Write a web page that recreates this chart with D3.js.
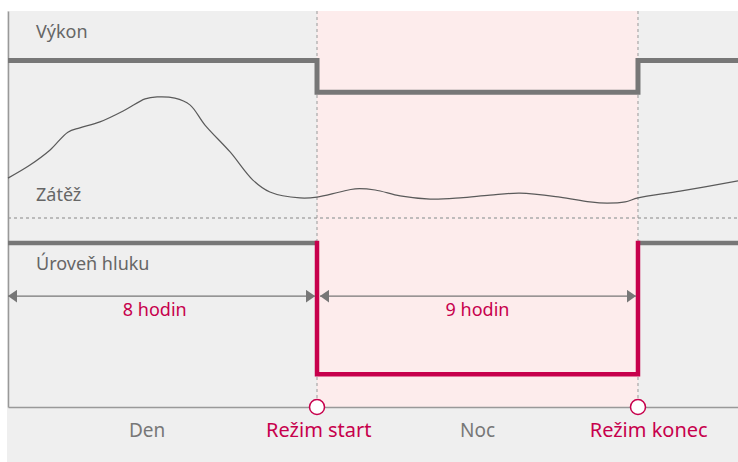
<!DOCTYPE html>
<html><head><meta charset="utf-8">
<script src="https://cdn.jsdelivr.net/npm/d3@7"></script>
<style>
body{margin:0;background:#fff}
svg{display:block}
text{font-family:"Noto Sans",sans-serif}
</style>
</head><body>
<svg id="c" width="738" height="462"></svg>
<script>
// ---- data ----
const hourStops = [0, 8, 17, 19.8];            // start, mode start, mode end, chart end
const powerHours = [0, 8, 17, 19.8];
const powerValues = [87.5, 79.5, 87.5, 87.5];
const noiseHours = [0, 8, 17, 19.8];
const noiseValues = [41.4, 8.3, 41.4, 41.4];
const loadHours = [0, 0.57, 1.09, 1.55, 1.86, 2.38, 3.03, 3.55, 3.86, 4.32, 4.71, 5.10, 5.75, 6.34, 6.78, 7.56, 8.0, 8.64, 9.07, 9.63, 10.33, 11.17, 12.01, 12.85, 13.69, 14.81, 15.65, 16.13, 16.64, 17.0, 18.18, 19.8];
const loadValues = [57.8, 61.1, 64.9, 69.4, 70.5, 72.0, 75.0, 77.8, 78.3, 78.0, 76.3, 71.2, 64.4, 57.3, 54.3, 52.8, 53.0, 54.3, 55.1, 54.8, 53.3, 52.5, 52.8, 53.5, 54.0, 53.0, 51.8, 51.5, 51.8, 52.8, 54.5, 57.1];
const separatorValue = 47.7;
const trackLabels = ["Výkon", "Zátěž", "Úroveň hluku"];
const trackLabelValues = [93.2, 52.0, 34.6];
const spanLabels = ["8 hodin", "9 hodin"];
const spanStarts = [0, 8];
const spanEnds = [8, 17];
const spanLabelHours = [3.8, 12.5];
const spanValue = 28.0;
const spanLabelValue = 22.9;
const periodLabels = ["Den", "Noc"];
const periodLabelHours = [3.6, 12.5];
const modeLabels = ["Režim start", "Režim konec"];
const modeHours = [8, 17];
const modeLabelHours = [8.05, 17.3];

// ---- layout ----
const W = 738, H = 462;
const frame = {left: 8, top: 11, right: 738, bottom: 407};
const gray = "#777777", crimson = "#c7004c";

const svg = d3.select("#c");
const plotW = frame.right - frame.left;
const x = d3.scaleLinear().domain(hourStops)
  .range([frame.left, frame.left + plotW * 0.4233, frame.left + plotW * 0.863, frame.right]);
const y = d3.scaleLinear().domain([0, 100]).range([frame.bottom, frame.top]);

// backgrounds
svg.append("rect").attr("x", frame.left - 1).attr("y", frame.top)
  .attr("width", W - frame.left + 1).attr("height", H - frame.top).attr("fill", "#efefef");
svg.append("rect").attr("x", x(hourStops[1])).attr("y", frame.top)
  .attr("width", x(hourStops[2]) - x(hourStops[1])).attr("height", frame.bottom - frame.top)
  .attr("fill", "#fdecec");

// separator dashed line
svg.append("line").attr("x1", frame.left).attr("x2", frame.right)
  .attr("y1", y(separatorValue)).attr("y2", y(separatorValue))
  .attr("stroke", "#aaaaaa").attr("stroke-width", 1.5).attr("stroke-dasharray", "3,3");

// mode vertical dashed lines
svg.selectAll(".vd").data(modeHours).join("line")
  .attr("x1", d => x(d)).attr("x2", d => x(d))
  .attr("y1", frame.top).attr("y2", frame.bottom)
  .attr("stroke", "#999").attr("stroke-width", 1).attr("stroke-dasharray", "3,3");

// axes
svg.append("g").attr("transform", `translate(0,${frame.bottom})`)
  .call(d3.axisBottom(x).tickValues([]).tickSizeOuter(0))
  .call(g => g.select(".domain").attr("stroke", "#999").attr("stroke-width", 1.5));
svg.append("g").attr("transform", `translate(${frame.left},0)`)
  .call(d3.axisLeft(y).tickValues([]).tickSizeOuter(0))
  .call(g => g.select(".domain").attr("stroke", "#999").attr("stroke-width", 1.5));

// power step line
const powerData = powerHours.map((h, i) => ({h, v: powerValues[i]}));
const lineLin = d3.line().x(d => x(d.h)).y(d => y(d.v));
svg.append("path").datum(powerData)
  .attr("d", d3.line().x(d => x(d.h)).y(d => y(d.v)).curve(d3.curveStepAfter))
  .attr("fill", "none").attr("stroke", gray).attr("stroke-width", 5)
  .attr("stroke-linejoin", "miter");

// load curve
const loadData = loadHours.map((h, i) => ({h, v: loadValues[i]}));
svg.append("path").datum(loadData)
  .attr("d", d3.line().x(d => x(d.h)).y(d => y(d.v)).curve(d3.curveCatmullRom.alpha(0.5)))
  .attr("fill", "none").attr("stroke", "#5a5a5a").attr("stroke-width", 1.2);

// noise lines
const nd = noiseHours.map((h, i) => ({h, v: noiseValues[i]}));
svg.append("path").datum([nd[0], {h: nd[1].h, v: nd[0].v}])
  .attr("d", lineLin).attr("fill", "none").attr("stroke", gray).attr("stroke-width", 4.5);
svg.append("path").datum([nd[2], nd[3]])
  .attr("d", lineLin).attr("fill", "none").attr("stroke", gray).attr("stroke-width", 4.5);
svg.append("path").datum([{h: nd[1].h, v: nd[0].v}, nd[1], {h: nd[2].h, v: nd[1].v}, nd[2]])
  .attr("d", lineLin).attr("fill", "none").attr("stroke", crimson).attr("stroke-width", 4.5)
  .attr("stroke-linejoin", "miter").attr("stroke-linecap", "square");

// arrow markers
const defs = svg.append("defs");
defs.append("marker").attr("id", "ah").attr("markerUnits", "userSpaceOnUse")
  .attr("viewBox", "0 0 10 14").attr("refX", 10).attr("refY", 7)
  .attr("markerWidth", 9).attr("markerHeight", 13).attr("orient", "auto-start-reverse")
  .append("path").attr("d", "M0,0L10,7L0,14Z").attr("fill", gray);

svg.selectAll(".span").data(spanStarts).join("line")
  .attr("x1", (d, i) => x(d) + (i === 0 ? 0 : 3))
  .attr("x2", (d, i) => x(spanEnds[i]) - 2)
  .attr("y1", y(spanValue)).attr("y2", y(spanValue))
  .attr("stroke", gray).attr("stroke-width", 1.3)
  .attr("marker-start", "url(#ah)").attr("marker-end", "url(#ah)");

svg.selectAll(".spanl").data(spanLabels).join("text")
  .attr("x", (d, i) => x(spanLabelHours[i])).attr("y", y(spanLabelValue))
  .attr("text-anchor", "middle").attr("fill", crimson).attr("font-size", 18)
  .text(d => d);

// track labels
svg.selectAll(".tl").data(trackLabels).join("text")
  .attr("x", 36).attr("y", (d, i) => y(trackLabelValues[i]))
  .attr("fill", "#666666").attr("font-size", 18).text(d => d);

// mode circles
svg.selectAll(".mc").data(modeHours).join("circle")
  .attr("cx", d => x(d)).attr("cy", frame.bottom).attr("r", 7.5)
  .attr("fill", "#fff").attr("stroke", crimson).attr("stroke-width", 1.5);

// bottom labels
svg.selectAll(".pl").data(periodLabels).join("text")
  .attr("x", (d, i) => x(periodLabelHours[i])).attr("y", 437)
  .attr("text-anchor", "middle").attr("fill", gray).attr("font-size", 19).text(d => d);
svg.selectAll(".ml").data(modeLabels).join("text")
  .attr("x", (d, i) => x(modeLabelHours[i])).attr("y", 437)
  .attr("text-anchor", "middle").attr("fill", crimson).attr("font-size", 20)
  .text(d => d);
</script>
</body></html>
